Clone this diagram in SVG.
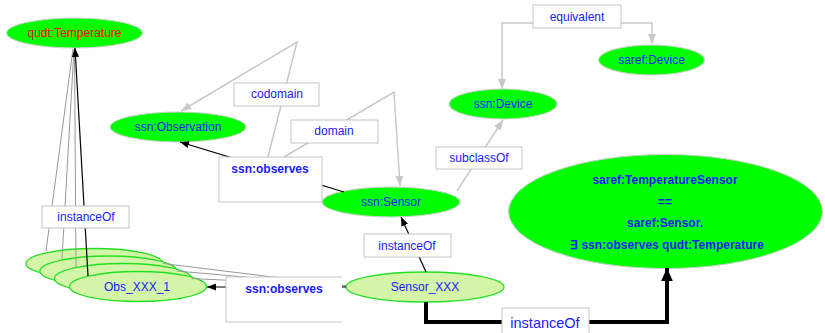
<svg xmlns="http://www.w3.org/2000/svg" width="825" height="333" viewBox="0 0 825 333">
<style>
text{font-family:"Liberation Sans",Arial,sans-serif;font-size:12px;fill:#1a1aff;text-anchor:middle}
.b{font-weight:bold}
.cls{fill:#00ff00;stroke:#cfcfcf;stroke-width:1}
.ind{fill:#d4f5a8;stroke:#22e022;stroke-width:1.3}
.box{fill:#fff;stroke:#c4c4c4;stroke-width:1}
.g{fill:none;stroke:#c8c8c8;stroke-width:1.5}
.t{fill:none;stroke:#999;stroke-width:1}
.k{fill:none;stroke:#000;stroke-width:1.2}
</style>
<defs>
<marker id="ak" viewBox="0 0 10 10" refX="10" refY="5" markerWidth="9" markerHeight="9" markerUnits="userSpaceOnUse" orient="auto"><path d="M0,1 L10,5 L0,9 z" fill="#000"/></marker>
<marker id="ag" viewBox="0 0 10 10" refX="10" refY="5" markerWidth="10" markerHeight="10" markerUnits="userSpaceOnUse" orient="auto"><path d="M0,1 L10,5 L0,9 z" fill="#c8c8c8"/></marker>
<marker id="abig" viewBox="0 0 10 10" refX="10" refY="5" markerWidth="13" markerHeight="13" markerUnits="userSpaceOnUse" orient="auto"><path d="M0,0.5 L10,5 L0,9.5 z" fill="#000"/></marker>
</defs>

<g id="qudt-temperature"><ellipse class="cls" cx="74.5" cy="33" rx="68" ry="15"/><text x="74.5" y="37" style="fill:#ff0000">qudt:Temperature</text></g>
<g id="ssn-observation"><ellipse class="cls" cx="178" cy="127" rx="68" ry="15"/><text x="178" y="131">ssn:Observation</text></g>
<g id="ssn-device"><ellipse class="cls" cx="503" cy="104" rx="54" ry="15"/><text x="503" y="108">ssn:Device</text></g>
<g id="saref-device"><ellipse class="cls" cx="651.5" cy="60" rx="53" ry="15"/><text x="651.5" y="64">saref:Device</text></g>
<g id="ssn-sensor"><ellipse class="cls" cx="391" cy="202" rx="69" ry="15"/><text x="391" y="206">ssn:Sensor</text></g>
<g id="saref-temperaturesensor"><ellipse class="cls" cx="665.5" cy="211.5" rx="157" ry="57"/>
<text class="b" x="665" y="184">saref:TemperatureSensor</text>
<text class="b" x="665" y="206">==</text>
<text class="b" x="665" y="227">saref:Sensor.</text>
<text class="b" x="667" y="249">∃ ssn:observes qudt:Temperature</text></g>
<g id="obs-4"><ellipse class="ind" cx="94.5" cy="263.5" rx="68.5" ry="15"/></g>
<g id="obs-3"><ellipse class="ind" cx="108.5" cy="271" rx="68.5" ry="15"/></g>
<g id="obs-2"><ellipse class="ind" cx="123" cy="278.5" rx="68.5" ry="15"/></g>
<g id="obs-1"><ellipse class="ind" cx="138" cy="286.5" rx="68.5" ry="15"/><text x="137" y="291">Obs_XXX_1</text></g>
<g id="sensor-xxx"><ellipse class="ind" cx="425" cy="287" rx="79" ry="15"/><text x="425" y="291">Sensor_XXX</text></g>

<g id="connectors">
<polyline class="g" points="268,157 297,42 181,111" marker-end="url(#ag)"/>
<polyline class="g" points="284,157 394,92 400,186" marker-end="url(#ag)"/>
<polyline class="g" points="457,191 503,120" marker-end="url(#ag)"/>
<polyline class="g" points="533,23 502,23 502,89" marker-end="url(#ag)"/>
<polyline class="g" points="621,23 652,23 652,44" marker-end="url(#ag)"/>
<line class="k" x1="344" y1="192" x2="180" y2="142" marker-end="url(#ak)"/>
<line class="k" x1="426" y1="272" x2="401" y2="217" marker-end="url(#ak)"/>
<line class="t" x1="346" y1="286" x2="163" y2="263.5"/>
<line class="t" x1="346" y1="286" x2="177" y2="271"/>
<line class="t" x1="346" y1="286" x2="191.5" y2="278.5"/>
<line class="k" x1="346" y1="287" x2="207" y2="287" marker-end="url(#ak)"/>
<line class="t" x1="46" y1="251" x2="73" y2="49"/>
<line class="t" x1="62" y1="259" x2="74" y2="49"/>
<line class="t" x1="76" y1="267.5" x2="74.5" y2="49"/>
<line class="k" x1="88" y1="276" x2="75" y2="48" marker-end="url(#ak)"/>
<polyline fill="none" stroke="#000" stroke-width="4" points="426,302 426,322 667,322 667,280"/>
<line x1="667" y1="285" x2="667" y2="268" stroke="#000" stroke-width="4" marker-end="url(#abig)"/>

<g id="lbl-codomain"><rect class="box" x="234" y="83" width="85" height="23"/><text x="277" y="98">codomain</text></g>
<g id="lbl-domain"><rect class="box" x="291" y="120" width="87" height="23"/><text x="334" y="135">domain</text></g>
<g id="lbl-subclassof"><rect class="box" x="436" y="147" width="86" height="22"/><text x="479" y="162">subclassOf</text></g>
<g id="lbl-equivalent"><rect class="box" x="533" y="5" width="88" height="23"/><text x="577" y="21">equivalent</text></g>
<g id="lbl-observes-top"><rect class="box" x="219" y="157" width="103" height="45"/><text class="b" x="270" y="173">ssn:observes</text></g>
<g id="lbl-instanceof-mid"><rect class="box" x="364" y="234" width="87" height="23"/><text x="407" y="250">instanceOf</text></g>
<g id="lbl-instanceof-left"><rect class="box" x="42" y="206" width="87" height="22"/><text x="86" y="221">instanceOf</text></g>
<g id="lbl-observes-bottom"><rect x="226" y="277" width="116" height="45" fill="#fff"/><path d="M342,277 H226 V322 H342" fill="none" stroke="#c4c4c4"/><text class="b" x="284" y="293">ssn:observes</text></g>
<g id="lbl-instanceof-bottom"><rect class="box" x="502" y="308" width="87" height="30"/><text x="545" y="328" style="font-size:14.5px">instanceOf</text></g>
</g>
</svg>
